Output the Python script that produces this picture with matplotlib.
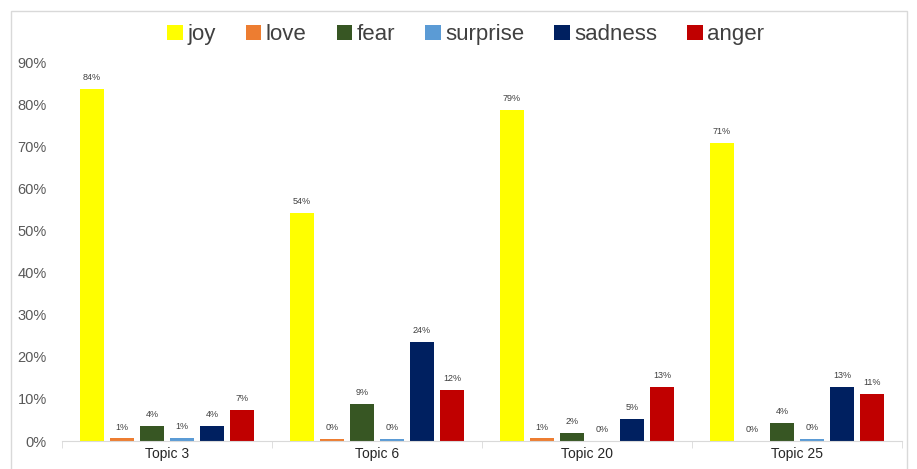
import numpy as np
import matplotlib.pyplot as plt
from matplotlib.patches import Rectangle

topics = ['Topic 3', 'Topic 6', 'Topic 20', 'Topic 25']
emotions = ['joy', 'love', 'fear', 'surprise', 'sadness', 'anger']
colors = ['#FFFF00', '#ED7D31', '#375623', '#5B9BD5', '#002060', '#C00000']

# share of each emotion per topic, in percent
joy = [83.7, 54.2, 78.7, 70.8]
love = [0.6, 0.4, 0.6, 0.1]
fear = [3.6, 8.8, 1.9, 4.2]
surprise = [0.7, 0.4, 0.0, 0.4]
sadness = [3.6, 23.6, 5.2, 12.9]
anger = [7.4, 12.1, 12.8, 11.2]


def main():
    plt.rcParams['font.family'] = ['Liberation Sans', 'DejaVu Sans']
    series = [joy, love, fear, surprise, sadness, anger]
    fig = plt.figure(figsize=(9.17, 4.69), dpi=100)
    ax = fig.add_axes([0.0676, 0.0597, 0.9161, 0.8081])

    x = np.arange(len(topics))
    pitch = 0.143
    width = 0.115
    for i, (name, vals, col) in enumerate(zip(emotions, series, colors)):
        pos = x + (i - 2.5) * pitch
        bars = ax.bar(pos, vals, width, color=col, label=name)
        for b, v in zip(bars, vals):
            ax.annotate(f'{v:.0f}%', (b.get_x() + b.get_width() / 2, v),
                        xytext=(0, 5), textcoords='offset points',
                        ha='center', va='bottom', fontsize=6.5, color='#404040')

    ax.set_xlim(-0.5, len(topics) - 0.5)
    ax.set_ylim(0, 90)
    ax.set_yticks(np.arange(0, 91, 10))
    ax.set_yticklabels([f'{t}%' for t in range(0, 91, 10)], fontsize=10.5, color='#595959')
    ax.tick_params(axis='y', length=0, pad=11)

    ax.set_xticks(x)
    ax.set_xticklabels(topics, fontsize=10, color='#262626')
    ax.set_xticks(np.arange(-0.5, len(topics), 1.0), minor=True)
    ax.tick_params(axis='x', which='major', length=0, pad=4)
    ax.tick_params(axis='x', which='minor', length=5, color='#D9D9D9', direction='out')

    for side in ['top', 'right', 'left']:
        ax.spines[side].set_visible(False)
    ax.spines['bottom'].set_color('#D9D9D9')

    fig.legend(loc='center', bbox_to_anchor=(0.508, 0.926), ncol=6, frameon=False,
               fontsize=16, handlelength=0.7, handleheight=0.7, handletextpad=0.2,
               columnspacing=1.35, labelcolor='#404040')

    fig.patches.append(Rectangle((11 / 917, -0.01), 896 / 917, 1 - 11 / 469 + 0.01,
                                 transform=fig.transFigure, fill=False,
                                 edgecolor='#D9D9D9', linewidth=1))

    fig.savefig('out.png', dpi=100)


if __name__ == '__main__':
    main()
